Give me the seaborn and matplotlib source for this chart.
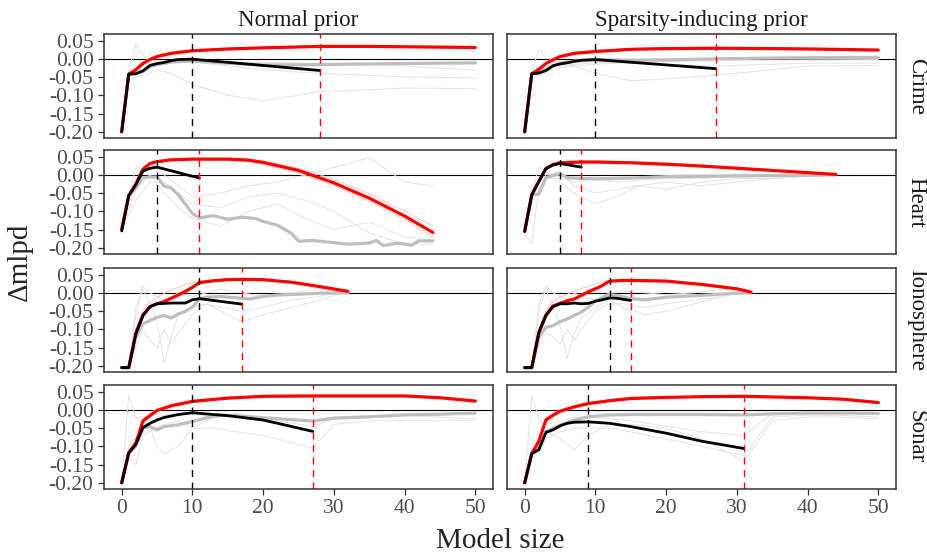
import numpy as np
import pandas as pd
import seaborn as sns
import matplotlib
matplotlib.use("Agg")
import matplotlib.pyplot as plt

# --- data (x = model size, y = delta mlpd) ---
# Crime, normal prior
crime_n_red_x = [0, 1, 2, 3, 4, 5, 7, 10, 15, 20, 28, 35, 40, 50]
crime_n_red_y = [-0.20, -0.042, -0.030, -0.013, -0.002, 0.006, 0.015, 0.022, 0.027, 0.030, 0.034, 0.034, 0.033, 0.031]
crime_n_grey_x = [0, 1, 2, 3, 4, 5, 7, 10, 15, 20, 28, 35, 40, 50]
crime_n_grey_y = [-0.20, -0.042, -0.040, -0.035, -0.022, -0.016, -0.009, -0.006, -0.012, -0.017, -0.016, -0.014, -0.013, -0.011]
crime_n_black_x = [0, 1, 2, 3, 4, 5, 6, 7, 8, 10, 28]
crime_n_black_y = [-0.20, -0.042, -0.041, -0.033, -0.018, -0.013, -0.010, -0.005, -0.002, -0.001, -0.032]
crime_n_thin_x = [0, 1, 2, 3, 4, 5, 7, 10, 15, 20, 28, 35, 40, 50]
crime_n_thin1 = [-0.20, -0.030, 0.040, 0.010, -0.005, -0.010, -0.005, -0.003, -0.010, -0.010, -0.012, -0.015, -0.020, -0.031]
crime_n_thin2 = [-0.20, -0.060, -0.050, -0.045, -0.040, -0.030, -0.040, -0.070, -0.100, -0.115, -0.090, -0.085, -0.080, -0.082]
crime_n_thin3 = [-0.20, -0.040, -0.035, -0.030, -0.020, -0.015, -0.010, -0.008, -0.020, -0.030, -0.040, -0.045, -0.050, -0.052]
crime_n_pink1 = [-0.20, -0.045, -0.025, -0.008, 0.002, 0.010, 0.018, 0.025, 0.029, 0.032, 0.035, 0.036, 0.035, 0.032]

# Crime, sparsity-inducing prior
crime_s_red_x = [0, 1, 2, 3, 4, 5, 7, 10, 15, 20, 27, 35, 40, 50]
crime_s_red_y = [-0.20, -0.041, -0.029, -0.013, -0.003, 0.006, 0.015, 0.020, 0.026, 0.028, 0.029, 0.028, 0.027, 0.024]
crime_s_grey_x = [0, 1, 2, 3, 4, 5, 7, 10, 15, 20, 27, 35, 40, 50]
crime_s_grey_y = [-0.20, -0.041, -0.038, -0.030, -0.020, -0.012, -0.006, -0.003, -0.004, -0.003, 0.000, 0.002, 0.003, 0.004]
crime_s_black_x = [0, 1, 2, 3, 4, 5, 6, 7, 8, 10, 27]
crime_s_black_y = [-0.20, -0.041, -0.039, -0.032, -0.019, -0.014, -0.011, -0.007, -0.004, -0.002, -0.027]
crime_s_thin_x = [0, 1, 2, 3, 4, 5, 7, 10, 15, 20, 27, 35, 40, 50]
crime_s_thin1 = [-0.20, -0.035, 0.025, 0.005, -0.005, -0.010, -0.020, -0.040, -0.060, -0.055, -0.045, -0.030, -0.020, -0.018]
crime_s_thin2 = [-0.20, -0.045, -0.040, -0.035, -0.025, -0.020, -0.015, -0.010, -0.012, -0.015, -0.020, -0.015, -0.012, -0.012]
crime_s_thin3 = [-0.20, -0.050, -0.045, -0.040, -0.030, -0.025, -0.020, -0.015, -0.010, -0.008, -0.005, -0.004, -0.003, -0.002]
crime_s_pink1 = [-0.20, -0.044, -0.026, -0.009, 0.001, 0.009, 0.017, 0.023, 0.028, 0.030, 0.031, 0.030, 0.029, 0.026]

# Heart, normal prior
heart_n_red_x = [0, 1, 2, 3, 4, 5, 7, 10, 15, 18, 20, 25, 30, 35, 40, 44]
heart_n_red_y = [-0.150, -0.057, -0.025, 0.015, 0.031, 0.036, 0.041, 0.043, 0.043, 0.040, 0.034, 0.012, -0.022, -0.064, -0.113, -0.158]
heart_n_grey_x = [0, 1, 2, 3, 4, 5, 6, 7, 8, 9, 10, 11, 12, 13, 15, 17, 19, 20, 22, 24, 25, 27, 30, 32, 35, 36, 37, 39, 41, 42, 44]
heart_n_grey_y = [-0.150, -0.057, -0.036, -0.008, -0.006, -0.006, -0.031, -0.036, -0.055, -0.080, -0.106, -0.118, -0.115,
                  -0.112, -0.122, -0.116, -0.120, -0.128, -0.138, -0.160, -0.182, -0.180, -0.186, -0.190, -0.187, -0.180,
                  -0.194, -0.187, -0.193, -0.181, -0.181]
heart_n_black_x = [0, 1, 2, 3, 4, 5, 11]
heart_n_black_y = [-0.154, -0.057, -0.027, 0.010, 0.018, 0.021, -0.009]
heart_n_thin_x = [0, 2, 4, 6, 8, 10, 14, 18, 22, 26, 30, 35, 40, 44]
heart_n_thin1 = [-0.15, 0.02, 0.03, 0.00, -0.03, -0.06, -0.05, -0.03, -0.02, 0.00, 0.02, 0.047, -0.02, -0.03]
heart_n_thin2 = [-0.15, -0.04, 0.00, -0.05, -0.09, -0.12, -0.14, -0.10, -0.08, -0.12, -0.15, -0.13, -0.17, -0.18]
heart_n_thin3 = [-0.15, -0.07, -0.02, -0.02, -0.05, -0.08, -0.09, -0.06, -0.05, -0.07, -0.10, -0.16, -0.19, -0.19]
heart_n_pink1 = [-0.15, -0.055, -0.022, 0.018, 0.033, 0.038, 0.043, 0.045, 0.045, 0.043, 0.038, 0.018, -0.012, -0.052, -0.100, -0.140]
heart_n_pink2 = [-0.15, -0.060, -0.028, 0.012, 0.028, 0.034, 0.039, 0.041, 0.040, 0.036, 0.029, 0.005, -0.030, -0.072, -0.122, -0.170]

# Heart, sparsity-inducing prior
heart_s_red_x = [0, 1, 2, 3, 4, 5, 8, 10, 15, 20, 25, 30, 35, 40, 44]
heart_s_red_y = [-0.155, -0.055, -0.018, 0.017, 0.028, 0.033, 0.035, 0.035, 0.033, 0.029, 0.024, 0.018, 0.012, 0.006, 0.001]
heart_s_grey_x = [0, 1, 2, 3, 4, 5, 6, 8, 10, 15, 20, 30, 40, 44]
heart_s_grey_y = [-0.155, -0.055, -0.053, -0.008, -0.002, 0.003, -0.008, -0.010, -0.011, -0.009, -0.005, -0.003, -0.001, 0.000]
heart_s_black_x = [0, 1, 2, 3, 4, 5, 8]
heart_s_black_y = [-0.155, -0.055, -0.018, 0.017, 0.027, 0.031, 0.021]
heart_s_thin_x = [0, 1, 2, 3, 5, 7, 10, 13, 16, 20, 25, 30, 35, 40, 44]
heart_s_thin1 = [-0.16, -0.19, -0.04, 0.00, 0.01, -0.03, -0.05, -0.04, -0.03, -0.02, -0.03, -0.02, -0.01, -0.005, 0.0]
heart_s_thin2 = [-0.15, -0.05, 0.02, 0.01, -0.02, -0.05, -0.08, -0.06, -0.03, -0.04, -0.02, -0.01, -0.01, 0.0, 0.0]
heart_s_thin3 = [-0.14, -0.03, -0.02, -0.01, -0.01, -0.02, -0.01, -0.02, -0.015, -0.01, -0.01, -0.005, -0.005, 0.0, 0.0]
heart_s_pink1 = [-0.155, -0.052, -0.015, 0.020, 0.031, 0.036, 0.038, 0.038, 0.036, 0.032, 0.026, 0.020, 0.013, 0.007, 0.001]

# Ionosphere, normal prior
iono_n_red_x = [0, 1, 2, 3, 4, 5, 6, 7, 8, 9, 10, 11, 13, 15, 17, 20, 24, 28, 32]
iono_n_red_y = [-0.205, -0.205, -0.110, -0.062, -0.038, -0.030, -0.024, -0.015, -0.006, 0.004, 0.015, 0.028, 0.033,
                0.036, 0.037, 0.036, 0.029, 0.017, 0.004]
iono_n_grey_x = [0, 1, 2, 3, 4, 5, 6, 7, 8, 9, 10, 11, 12, 14, 17, 18, 20, 22, 25, 28, 32]
iono_n_grey_y = [-0.205, -0.205, -0.122, -0.085, -0.076, -0.067, -0.062, -0.069, -0.058, -0.051, -0.039, -0.017, -0.012,
                 -0.010, -0.015, -0.017, -0.010, -0.006, -0.004, -0.001, 0.000]
iono_n_black_x = [0, 1, 2, 3, 4, 5, 7, 9, 10, 11, 13, 15, 17]
iono_n_black_y = [-0.205, -0.205, -0.113, -0.062, -0.038, -0.030, -0.028, -0.028, -0.019, -0.016, -0.021, -0.026, -0.031]
iono_n_thin_x = [0, 1, 2, 3, 4, 5, 6, 7, 8, 10, 12, 14, 17, 20, 24, 28, 32]
iono_n_thin1 = [-0.205, -0.205, -0.06, 0.01, -0.03, -0.08, -0.19, -0.12, -0.06, -0.04, -0.03, -0.05, -0.08, -0.06, -0.04, -0.02, 0.005]
iono_n_thin2 = [-0.205, -0.205, -0.15, -0.10, -0.13, -0.15, -0.10, -0.14, -0.11, -0.06, -0.03, -0.04, -0.05, -0.04, -0.02, -0.01, 0.01]
iono_n_thin3 = [-0.205, -0.205, -0.04, 0.02, 0.00, -0.01, -0.02, -0.01, 0.00, -0.01, 0.00, 0.01, 0.00, -0.01, 0.00, 0.01, 0.00]
iono_n_pink1 = [-0.205, -0.205, -0.100, -0.050, -0.025, -0.012, -0.002, 0.008, 0.015, 0.022, 0.027, 0.032, 0.035,
                0.037, 0.037, 0.035, 0.028, 0.016, 0.004]

# Ionosphere, sparsity-inducing prior
iono_s_red_x = [0, 1, 2, 3, 4, 5, 6, 7, 8, 9, 10, 11, 12, 14, 15, 20, 25, 30, 32]
iono_s_red_y = [-0.205, -0.205, -0.110, -0.062, -0.036, -0.029, -0.022, -0.017, -0.007, 0.003, 0.011, 0.020, 0.032,
                0.034, 0.034, 0.032, 0.023, 0.011, 0.002]
iono_s_grey_x = [0, 1, 2, 3, 4, 5, 6, 7, 8, 9, 10, 11, 12, 13, 15, 17, 20, 25, 30, 32]
iono_s_grey_y = [-0.205, -0.205, -0.122, -0.095, -0.090, -0.079, -0.072, -0.062, -0.053, -0.039, -0.023, -0.012, -0.005,
                 -0.007, -0.016, -0.019, -0.012, -0.007, -0.001, 0.000]
iono_s_black_x = [0, 1, 2, 3, 4, 5, 6, 7, 8, 9, 10, 11, 12, 13, 15]
iono_s_black_y = [-0.205, -0.205, -0.108, -0.062, -0.038, -0.030, -0.030, -0.028, -0.030, -0.029, -0.023, -0.019,
                  -0.014, -0.015, -0.021]
iono_s_thin_x = [0, 1, 2, 3, 4, 5, 6, 7, 8, 10, 12, 14, 17, 20, 24, 28, 32]
iono_s_thin1 = [-0.205, -0.205, -0.05, 0.01, -0.04, -0.09, -0.18, -0.11, -0.07, -0.04, -0.02, -0.04, -0.06, -0.05, -0.03, -0.01, 0.005]
iono_s_thin2 = [-0.205, -0.205, -0.14, -0.11, -0.12, -0.14, -0.10, -0.13, -0.10, -0.05, -0.03, -0.03, -0.04, -0.03, -0.02, -0.01, 0.01]
iono_s_thin3 = [-0.205, -0.205, -0.03, 0.02, 0.00, -0.01, -0.02, 0.00, -0.01, -0.02, 0.00, 0.005, 0.00, -0.005, 0.00, 0.01, 0.00]
iono_s_pink1 = [-0.205, -0.205, -0.098, -0.048, -0.024, -0.012, -0.004, 0.004, 0.012, 0.018, 0.024, 0.029, 0.034,
                0.036, 0.036, 0.034, 0.025, 0.012, 0.002]

# Sonar, normal prior
sonar_n_red_x = [0, 1, 2, 3, 4, 5, 7, 10, 15, 20, 27, 35, 40, 45, 50]
sonar_n_red_y = [-0.200, -0.118, -0.092, -0.031, -0.016, -0.002, 0.011, 0.023, 0.032, 0.037, 0.038, 0.038, 0.038, 0.033, 0.024]
sonar_n_grey_x = [0, 1, 2, 3, 4, 5, 6, 8, 10, 12, 14, 16, 20, 25, 27, 30, 35, 40, 45, 50]
sonar_n_grey_y = [-0.200, -0.118, -0.100, -0.050, -0.046, -0.055, -0.046, -0.041, -0.032, -0.022, -0.015, -0.016,
                  -0.022, -0.028, -0.031, -0.023, -0.019, -0.014, -0.012, -0.009]
sonar_n_black_x = [0, 1, 2, 3, 4, 5, 6, 8, 10, 13, 15, 20, 27]
sonar_n_black_y = [-0.200, -0.118, -0.095, -0.049, -0.037, -0.028, -0.021, -0.013, -0.008, -0.013, -0.016, -0.028, -0.059]
sonar_n_thin_x = [0, 1, 2, 3, 4, 5, 6, 8, 10, 13, 16, 20, 27, 30, 35, 40, 45, 50]
sonar_n_thin1 = [-0.20, 0.04, -0.02, -0.03, -0.05, -0.10, -0.12, -0.10, -0.05, -0.02, -0.01, -0.02, -0.03, -0.02, -0.02, -0.015, -0.02, -0.025]
sonar_n_thin2 = [-0.20, -0.13, -0.15, -0.07, -0.06, -0.05, -0.04, -0.03, -0.05, -0.05, -0.06, -0.07, -0.105, -0.04, -0.03, -0.03, -0.03, -0.028]
sonar_n_thin3 = [-0.20, -0.10, -0.08, -0.05, -0.03, -0.02, -0.015, -0.01, -0.005, -0.01, -0.015, -0.025, -0.045, -0.025, -0.02, -0.015, -0.01, -0.01]
sonar_n_pink1 = [-0.200, -0.110, -0.080, -0.025, -0.010, 0.003, 0.015, 0.026, 0.034, 0.038, 0.039, 0.039, 0.038, 0.034, 0.026]

# Sonar, sparsity-inducing prior
sonar_s_red_x = [0, 1, 2, 3, 4, 5, 7, 9, 12, 15, 20, 25, 31, 40, 45, 50]
sonar_s_red_y = [-0.200, -0.120, -0.086, -0.028, -0.015, -0.004, 0.008, 0.017, 0.025, 0.031, 0.034, 0.036, 0.037,
                 0.033, 0.029, 0.020]
sonar_s_grey_x = [0, 1, 2, 3, 5, 7, 9, 12, 15, 20, 25, 31, 35, 40, 45, 50]
sonar_s_grey_y = [-0.200, -0.120, -0.110, -0.060, -0.042, -0.028, -0.019, -0.014, -0.013, -0.013, -0.013, -0.014,
                  -0.011, -0.009, -0.009, -0.010]
sonar_s_black_x = [0, 1, 2, 3, 4, 5, 6, 7, 9, 12, 15, 20, 25, 31]
sonar_s_black_y = [-0.200, -0.120, -0.109, -0.062, -0.055, -0.044, -0.037, -0.034, -0.033, -0.037, -0.046, -0.064,
                   -0.086, -0.106]
sonar_s_thin_x = [0, 1, 2, 3, 5, 7, 9, 12, 15, 20, 25, 31, 35, 40, 45, 50]
sonar_s_thin1 = [-0.20, 0.04, -0.02, -0.06, -0.08, -0.11, -0.07, -0.04, -0.04, -0.05, -0.08, -0.14, -0.03, -0.02, -0.02, -0.025]
sonar_s_thin2 = [-0.20, -0.13, -0.12, -0.08, -0.06, -0.05, -0.05, -0.05, -0.06, -0.08, -0.10, -0.125, -0.02, -0.015, -0.015, -0.02]
sonar_s_thin3 = [-0.20, -0.10, -0.07, -0.04, -0.03, -0.02, -0.02, -0.025, -0.03, -0.045, -0.06, -0.07, -0.01, -0.008, -0.005, -0.01]
sonar_s_pink1 = [-0.200, -0.115, -0.080, -0.022, -0.010, 0.000, 0.012, 0.020, 0.028, 0.034, 0.036, 0.038, 0.039,
                 0.035, 0.031, 0.022]

# selected model sizes (black / red dashed lines), per dataset: [normal, sparse]
datasets = ["Crime", "Heart", "Ionosphere", "Sonar"]
priors = ["Normal prior", "Sparsity-inducing prior"]
sel_black = [[10, 10], [5, 5], [11, 12], [10, 9]]
sel_red = [[28, 27], [11, 8], [17, 15], [27, 31]]

# --- tidy table ---
rows = []
def add(ds, pr, kind, run, xs, ys):
    for x, y in zip(xs, ys):
        rows.append((ds, pr, kind, run, x, y))

g = globals()
for ds, key in zip(datasets, ["crime", "heart", "iono", "sonar"]):
    for pr, p in zip(priors, ["n", "s"]):
        base = f"{key}_{p}_"
        for i in (1, 2, 3):
            add(ds, pr, "thin", i, g[base + "thin_x"], g[base + f"thin{i}"])
        for i in (1, 2):
            if base + f"pink{i}" in g:
                add(ds, pr, "pink", i, g[base + "red_x"], g[base + f"pink{i}"])
        add(ds, pr, "grey", 0, g[base + "grey_x"], g[base + "grey_y"])
        add(ds, pr, "red", 0, g[base + "red_x"], g[base + "red_y"])
        add(ds, pr, "black", 0, g[base + "black_x"], g[base + "black_y"])
df = pd.DataFrame(rows, columns=["dataset", "prior", "kind", "run", "size", "dmlpd"])

# --- style ---
sns.set_theme(style="white")
plt.rcParams["font.family"] = ["Liberation Serif", "DejaVu Serif"]
plt.rcParams["axes.unicode_minus"] = False

styles = {
    "thin": dict(color="#E3E3E3", linewidth=0.7),
    "pink": dict(color="#FFC4C4", linewidth=0.7),
    "grey": dict(color="#BEBEBE", linewidth=2.3),
    "red": dict(color="#FF0000", linewidth=2.3),
    "black": dict(color="black", linewidth=2.0),
}

fig = plt.figure(figsize=(9.28, 5.59), dpi=100)
W, H = 928, 559
col_left = [104, 507]
row_top = [34, 150, 268, 385]
pw, ph = 389, 104

for r, ds in enumerate(datasets):
    for c, pr in enumerate(priors):
        ax = fig.add_axes([col_left[c] / W, 1 - (row_top[r] + ph) / H, pw / W, ph / H])
        sub = df[(df.dataset == ds) & (df.prior == pr)]
        ax.axhline(0, color="black", linewidth=0.8, zorder=1)
        for kind in ["thin", "pink", "grey", "red", "black"]:
            d = sub[sub.kind == kind]
            if d.empty:
                continue
            sns.lineplot(data=d, x="size", y="dmlpd", units="run", estimator=None, sort=False,
                         ax=ax, legend=False, **styles[kind])
        ax.axvline(sel_black[r][c], color="black", linestyle=(0, (5, 4)), linewidth=1.0)
        ax.axvline(sel_red[r][c], color="#FF0000", linestyle=(0, (5, 4)), linewidth=1.0)
        ax.set_xlim(-2.5, 52.5)
        ax.set_ylim(-0.217, 0.068)
        ax.set_xticks([0, 10, 20, 30, 40, 50])
        ax.set_yticks([0.05, 0.0, -0.05, -0.10, -0.15, -0.20])
        ax.set_xlabel("")
        ax.set_ylabel("")
        for sp in ax.spines.values():
            sp.set_color("#333333")
            sp.set_linewidth(1.1)
        ax.tick_params(axis="both", which="both", length=4.5, width=0.9, color="#333333",
                       labelsize=15.5, labelcolor="#4D4D4D", pad=3,
                       bottom=(r == 3), left=(c == 0))
        if c == 0:
            ax.set_yticklabels(["0.05", "0.00", "-0.05", "-0.10", "-0.15", "-0.20"])
        else:
            ax.set_yticklabels([])
        if r != 3:
            ax.set_xticklabels([])
        if r == 0:
            ax.set_title(pr, fontsize=16.5, color="#1A1A1A", pad=6)
        if c == 1:
            ax.text(1.025, 0.5, ds, transform=ax.transAxes, rotation=270, ha="left", va="center",
                    fontsize=16.5, color="#1A1A1A")

fig.text(500 / W, 1 - 541 / H, "Model size", ha="center", va="center", fontsize=21)
fig.text(20 / W, 1 - 262 / H, "Δmlpd", ha="center", va="center", rotation=90, fontsize=21)

fig.savefig("out.png", dpi=100)
